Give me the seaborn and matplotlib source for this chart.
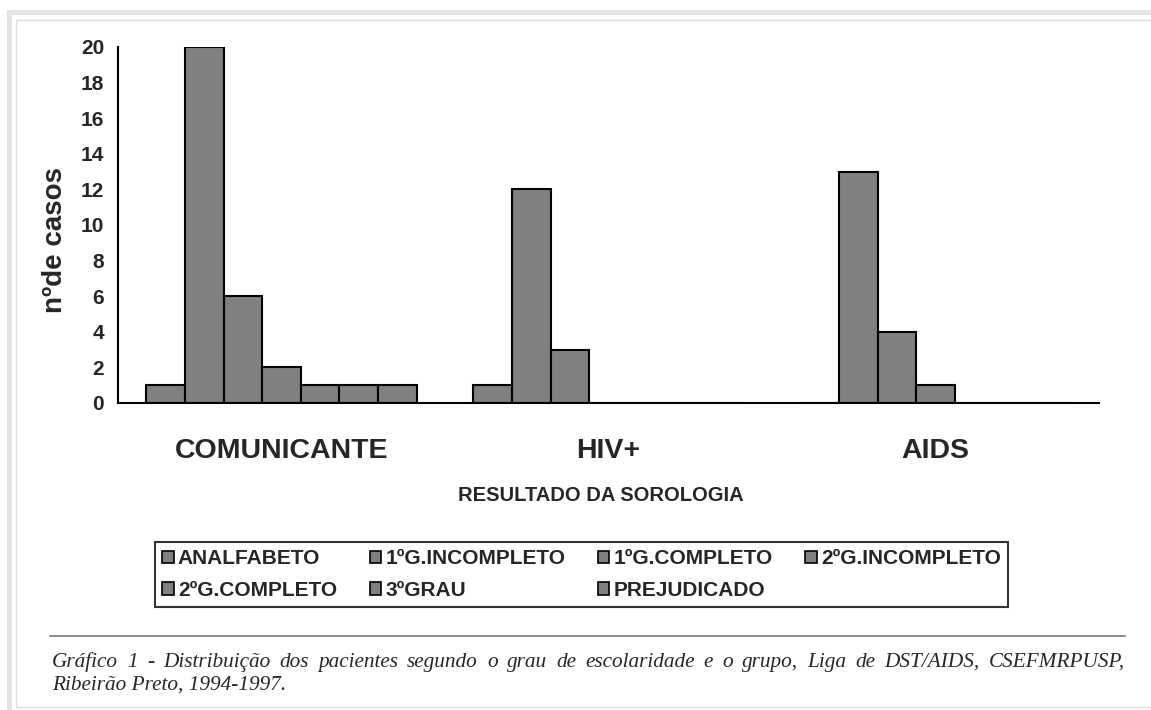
import pandas as pd
import matplotlib.pyplot as plt
import matplotlib.patches as mpatches
import matplotlib.ticker as mticker
from matplotlib.lines import Line2D
import seaborn as sns

GRAY = "#808080"

grupos = ["COMUNICANTE", "HIV+", "AIDS"]
escolaridade = ["ANALFABETO", "1ºG.INCOMPLETO", "1ºG.COMPLETO", "2ºG.INCOMPLETO",
                "2ºG.COMPLETO", "3ºGRAU", "PREJUDICADO"]
comunicante = [1, 20, 6, 2, 1, 1, 1]
hiv = [1, 12, 3, 0, 0, 0, 0]
aids = [0, 13, 4, 1, 0, 0, 0]

caption_1 = ("Gráfico 1 - Distribuição dos pacientes segundo o grau de escolaridade "
             "e o grupo, Liga de DST/AIDS, CSEFMRPUSP,")
caption_2 = "Ribeirão Preto, 1994-1997."

sns.set_style("white")
plt.rcParams["font.family"] = ["Liberation Sans", "DejaVu Sans"]

rows = []
for grupo, valores in zip(grupos, [comunicante, hiv, aids]):
    for esc, v in zip(escolaridade, valores):
        rows.append({"grupo": grupo, "escolaridade": esc, "casos": v})
df = pd.DataFrame(rows)

W, H = 1151, 710
fig = plt.figure(figsize=(W / 100, H / 100), dpi=100)
fig.patch.set_facecolor("white")

# page frame (grey bands like the scanned page)
fig.add_artist(mpatches.Rectangle((7 / W, 0), 5 / W, (H - 10) / H, transform=fig.transFigure,
                                  facecolor="#e3e3e3", edgecolor="none"))
fig.add_artist(mpatches.Rectangle((7 / W, (H - 15) / H), (W - 7) / W, 5 / H, transform=fig.transFigure,
                                  facecolor="#e3e3e3", edgecolor="none"))
fig.add_artist(Line2D([16 / W, 1], [(H - 20) / H] * 2, transform=fig.transFigure, color="#dcdcdc", lw=1))
fig.add_artist(Line2D([16 / W] * 2, [3 / H, (H - 20) / H], transform=fig.transFigure, color="#dcdcdc", lw=1))
fig.add_artist(Line2D([16 / W, 1], [3 / H] * 2, transform=fig.transFigure, color="#dcdcdc", lw=1))

ax = fig.add_axes([118 / W, (H - 403) / H, (1099 - 118) / W, (403 - 47) / H])
sns.barplot(data=df, x="grupo", y="casos", hue="escolaridade", hue_order=escolaridade,
            order=grupos, palette=[GRAY] * 7, width=0.826, edgecolor="black",
            linewidth=1.5, saturation=1, legend=False, ax=ax)

ax.set_ylim(0, 20)
ax.set_xlim(-0.5, 2.5)
ax.yaxis.set_major_locator(mticker.MultipleLocator(2))
ax.xaxis.set_major_locator(mticker.FixedLocator([-0.5, 0.5, 1.5, 2.5]))
ax.xaxis.set_major_formatter(mticker.NullFormatter())
ax.xaxis.set_minor_locator(mticker.FixedLocator([0, 1, 2]))
ax.xaxis.set_minor_formatter(mticker.FixedFormatter(grupos))
ax.tick_params(axis="x", which="major", direction="out", length=6, width=1.5, color="black")
ax.tick_params(axis="x", which="minor", length=0, pad=25, labelsize=20.5)
ax.tick_params(axis="y", direction="out", length=6, width=1.5, color="black", pad=4, labelsize=15)
for lab in ax.get_xticklabels(minor=True) + ax.get_yticklabels():
    lab.set_fontweight("bold")

for side in ["top", "right"]:
    ax.spines[side].set_visible(False)
for side in ["left", "bottom"]:
    ax.spines[side].set_linewidth(1.5)
    ax.spines[side].set_color("black")

ax.set_xlabel("RESULTADO DA SOROLOGIA", fontsize=14.5, fontweight="bold")
ax.xaxis.set_label_coords(0.492, -0.232)
ax.set_ylabel("nºde casos", fontsize=20, fontweight="bold")
ax.yaxis.set_label_coords(-0.051, 0.458)
ax.grid(False)

# legend, row-major order in 4 columns
order = [0, 4, 1, 5, 2, 6, 3]
handles = [mpatches.Patch(facecolor=GRAY, edgecolor="black", linewidth=1.2) for _ in escolaridade]
leg = fig.legend([handles[i] for i in order], [escolaridade[i] for i in order], ncol=4,
                 loc="lower left", bbox_to_anchor=(155 / W, (H - 607) / H, (1008 - 155) / W, 67 / H),
                 mode="expand", frameon=True, fancybox=False, shadow=False,
                 prop={"weight": "bold", "size": 15}, handlelength=0.55, handleheight=0.55,
                 handletextpad=0.2, columnspacing=0.5, labelspacing=0.6, borderpad=0.35,
                 borderaxespad=0)
leg.get_frame().set_edgecolor("black")
leg.get_frame().set_linewidth(1.5)

# caption with rule above
fig.add_artist(Line2D([50 / W, 1125 / W], [(H - 636) / H] * 2, transform=fig.transFigure,
                      color="#808080", lw=1.3))
cap_font = {"family": "Liberation Serif", "style": "italic", "size": 15.3}
renderer = fig.canvas.get_renderer()
words = caption_1.split(" ")
objs = [fig.text(0, (H - 667) / H, w, fontdict=cap_font, va="baseline") for w in words]
widths = [o.get_window_extent(renderer).width for o in objs]
gap = (1125 - 52 - sum(widths)) / (len(words) - 1)
x = 52
for o, w in zip(objs, widths):
    o.set_x(x / W)
    x += w + gap
fig.text(52 / W, (H - 690) / H, caption_2, fontdict=cap_font, va="baseline")

fig.savefig("out.png", dpi=100)
